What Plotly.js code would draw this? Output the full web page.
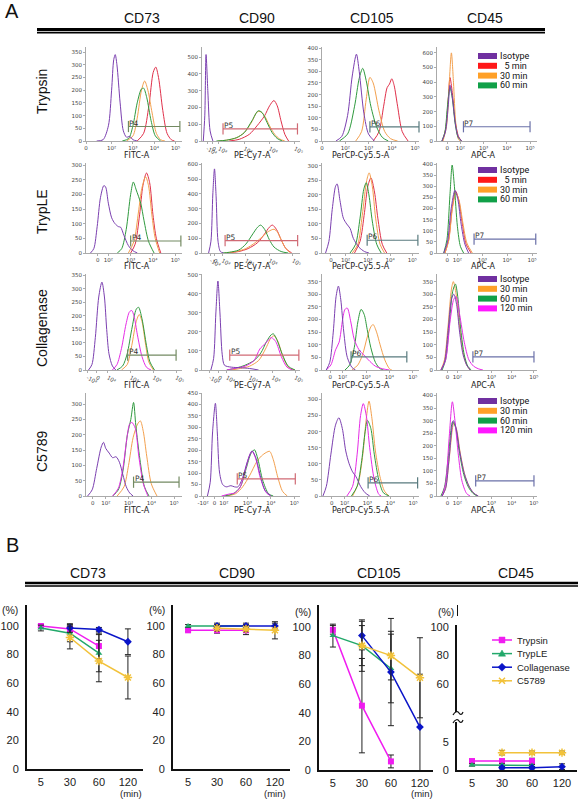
<!DOCTYPE html>
<html><head><meta charset="utf-8">
<script src="https://cdn.plot.ly/plotly-3.0.1.min.js"></script>
<style>html,body{margin:0;padding:0;background:#fff}#chart{width:578px;height:799px}</style>
</head><body><div id="chart"></div>
<script>
// ================= DATA =================
const rowNames = ["Trypsin", "TrypLE", "Collagenase", "C5789"];
const markerNames = ["CD73", "CD90", "CD105", "CD45"];
const channelNames = ["FITC-A", "PE-Cy7-A", "PerCP-Cy5.5-A", "APC-A"];
const gateNames = ["P4", "P5", "P6", "P7"];
const seriesEarly = ["Isotype", "\u00a0\u00a05 min", "30 min", "60 min"];
const seriesLate = ["Isotype", "30 min", "60 min", "120 min"];

// histogram curves: [display position (decade scale), count]
// Trypsin row: Isotype, 5 min, 30 min, 60 min
const trypsinCD73 = [
  [[1.3,0],[1.6,5],[1.85,60],[2.0,200],[2.1,320],[2.17,340],[2.25,300],[2.4,150],[2.55,40],[2.7,15],[2.85,18],[3.0,5],[3.2,0]],
  [[3.2,0],[3.5,30],[3.75,140],[3.95,270],[4.07,291],[4.2,250],[4.4,120],[4.6,30],[4.8,5],[4.95,0]],
  [[2.7,0],[3.0,20],[3.2,90],[3.4,200],[3.55,236],[3.7,200],[3.9,110],[4.1,30],[4.3,5],[4.5,0]],
  [[2.5,0],[2.8,10],[3.0,60],[3.2,150],[3.4,205],[3.5,208],[3.65,170],[3.85,80],[4.05,20],[4.3,0]]
];
const trypsinCD90 = [
  [[1.38,0],[1.44,150],[1.49,515],[1.56,300],[1.65,60],[1.76,0]],
  [[2.4,0],[2.8,10],[3.2,40],[3.5,90],[3.8,150],[4.0,210],[4.17,241],[4.3,210],[4.45,120],[4.6,40],[4.75,0]],
  [[1.95,0],[2.3,5],[2.7,20],[3.0,50],[3.3,115],[3.5,172],[3.62,176],[3.8,150],[4.0,90],[4.2,40],[4.4,12],[4.6,0]],
  [[1.9,0],[2.3,5],[2.7,20],[3.0,50],[3.3,120],[3.55,180],[3.7,170],[3.9,110],[4.1,50],[4.3,15],[4.5,0]]
];
const trypsinCD105 = [
  [[1.6,0],[1.85,20],[2.1,110],[2.3,280],[2.48,374],[2.6,300],[2.8,120],[3.0,30],[3.25,0]],
  [[3.2,0],[3.45,40],[3.65,150],[3.8,230],[3.9,245],[4.0,268],[4.1,240],[4.25,150],[4.45,40],[4.7,0]],
  [[2.45,0],[2.7,40],[2.9,180],[3.06,274],[3.2,250],[3.45,130],[3.7,40],[3.95,10],[4.25,0]],
  [[1.75,0],[2.1,30],[2.4,150],[2.6,270],[2.75,313],[2.9,260],[3.1,150],[3.35,60],[3.6,15],[3.85,0]]
];
const trypsinCD45 = [
  [[1.2,0],[1.35,60],[1.48,250],[1.55,380],[1.65,300],[1.78,120],[1.9,30],[2.05,0]],
  [[1.22,0],[1.36,80],[1.48,300],[1.55,432],[1.65,330],[1.78,130],[1.92,30],[2.05,0]],
  [[1.25,0],[1.4,100],[1.52,400],[1.61,600],[1.7,400],[1.8,120],[1.92,10],[2.0,0]],
  [[1.2,0],[1.33,60],[1.45,250],[1.55,365],[1.65,290],[1.78,110],[1.9,25],[2.05,0]]
];
// TrypLE row: Isotype, 5 min, 30 min, 60 min
const trypleCD73 = [
  [[1.2,0],[1.35,15],[1.5,90],[1.65,190],[1.8,230],[1.88,225],[2.0,170],[2.15,120],[2.3,100],[2.45,90],[2.55,88],[2.7,60],[2.9,25],[3.1,8],[3.3,0]],
  [[3.0,0],[3.2,30],[3.4,130],[3.55,230],[3.71,273],[3.85,240],[4.0,130],[4.15,50],[4.35,0]],
  [[2.9,0],[3.15,40],[3.35,140],[3.5,220],[3.67,260],[3.8,230],[3.95,130],[4.1,50],[4.3,0]],
  [[2.4,0],[2.6,15],[2.8,80],[3.0,200],[3.12,242],[3.25,215],[3.45,170],[3.6,110],[3.8,40],[4.05,0]]
];
const trypleCD90 = [
  [[1.42,0],[1.52,80],[1.6,400],[1.67,570],[1.74,380],[1.82,80],[1.92,10],[2.05,0]],
  [[2.2,0],[2.7,10],[3.1,30],[3.5,70],[3.8,130],[4.0,175],[4.13,189],[4.3,160],[4.5,90],[4.7,30],[4.95,0]],
  [[2.1,0],[2.6,10],[3.0,30],[3.4,70],[3.7,110],[3.95,145],[4.2,161],[4.35,140],[4.5,90],[4.7,30],[4.9,0]],
  [[2.0,0],[2.3,5],[2.7,20],[3.0,60],[3.3,130],[3.5,175],[3.63,189],[3.8,160],[4.0,90],[4.2,40],[4.5,10],[4.8,0]]
];
const trypleCD105 = [
  [[1.1,0],[1.25,40],[1.4,150],[1.55,230],[1.62,238],[1.75,180],[1.9,120],[2.05,100],[2.2,85],[2.35,50],[2.6,20],[2.85,5],[3.05,0]],
  [[2.4,0],[2.65,40],[2.85,140],[3.0,230],[3.14,259],[3.3,210],[3.45,120],[3.65,30],[3.85,0]],
  [[2.3,0],[2.55,30],[2.75,130],[2.95,250],[3.06,276],[3.2,230],[3.35,120],[3.55,30],[3.75,0]],
  [[2.2,0],[2.45,30],[2.65,120],[2.82,220],[2.93,242],[3.05,200],[3.2,110],[3.4,30],[3.6,0]]
];
const trypleCD45 = [
  [[1.45,0],[1.6,50],[1.75,200],[1.9,282],[2.02,240],[2.15,130],[2.3,40],[2.45,0]],
  [[1.5,0],[1.65,60],[1.8,210],[1.93,278],[2.05,240],[2.2,130],[2.35,40],[2.55,0]],
  [[1.5,0],[1.65,55],[1.8,200],[1.94,270],[2.07,235],[2.22,135],[2.38,45],[2.6,0]],
  [[1.45,0],[1.58,60],[1.7,260],[1.79,396],[1.88,300],[2.0,120],[2.12,30],[2.25,0]]
];
// Collagenase row: Isotype, 30 min, 60 min, 120 min
const collagenaseCD73 = [
  [[1.15,0],[1.3,20],[1.45,120],[1.6,270],[1.74,325],[1.85,270],[1.95,150],[2.05,60],[2.2,15],[2.35,0]],
  [[2.6,0],[2.85,20],[3.05,90],[3.25,180],[3.38,205],[3.5,180],[3.65,100],[3.8,30],[4.0,0]],
  [[2.4,0],[2.65,15],[2.85,60],[3.05,150],[3.25,225],[3.35,232],[3.5,190],[3.7,90],[3.85,30],[4.05,0]],
  [[2.2,0],[2.4,20],[2.6,80],[2.8,170],[2.95,215],[3.05,220],[3.15,200],[3.3,130],[3.5,50],[3.7,10],[3.9,0]]
];
const collagenaseCD90 = [
  [[1.3,0],[1.42,60],[1.52,300],[1.61,468],[1.7,300],[1.8,80],[1.9,25],[2.2,15],[2.6,12],[3.0,8],[3.4,0]],
  [[2.2,0],[2.6,8],[3.0,20],[3.4,50],[3.7,110],[3.95,170],[4.08,180],[4.25,150],[4.5,60],[4.75,10],[5.0,0]],
  [[2.0,0],[2.4,10],[2.8,25],[3.2,50],[3.5,90],[3.75,150],[3.95,185],[4.05,190],[4.2,160],[4.45,80],[4.7,20],[5.0,0]],
  [[2.0,0],[2.4,10],[2.8,20],[3.2,50],[3.45,110],[3.7,140],[3.96,170],[4.15,150],[4.4,70],[4.65,15],[4.9,0]]
];
const collagenaseCD105 = [
  [[1.3,0],[1.45,30],[1.6,150],[1.72,290],[1.82,332],[1.92,280],[2.05,150],[2.2,50],[2.4,10],[2.55,0]],
  [[2.4,0],[2.65,20],[2.85,60],[3.05,130],[3.2,170],[3.3,180],[3.45,150],[3.6,100],[3.8,40],[4.0,5],[4.1,0]],
  [[2.1,0],[2.3,20],[2.5,90],[2.65,190],[2.79,240],[2.92,220],[3.05,160],[3.2,90],[3.4,30],[3.6,5],[3.75,0]],
  [[1.3,0],[1.5,20],[1.7,80],[1.85,110],[2.0,200],[2.1,240],[2.2,245],[2.35,190],[2.5,120],[2.7,80],[2.9,60],[3.1,40],[3.4,15],[3.7,5],[4.0,0]]
];
const collagenaseCD45 = [
  [[1.3,0],[1.45,30],[1.6,150],[1.75,280],[1.85,300],[1.97,260],[2.1,150],[2.25,60],[2.4,20],[2.55,0]],
  [[1.3,0],[1.45,40],[1.6,170],[1.75,320],[1.83,350],[1.95,300],[2.1,170],[2.25,70],[2.4,20],[2.55,0]],
  [[1.35,0],[1.5,40],[1.65,170],[1.8,310],[1.92,340],[2.02,290],[2.15,160],[2.3,60],[2.45,15],[2.6,0]],
  [[1.3,0],[1.5,40],[1.7,200],[1.85,280],[1.95,290],[2.1,220],[2.3,110],[2.5,40],[2.7,15],[2.9,5],[3.1,0]]
];
// C5789 row: Isotype, 30 min, 60 min, 120 min
const c5789CD73 = [
  [[1.2,0],[1.4,20],[1.6,90],[1.8,160],[1.9,175],[2.0,155],[2.15,140],[2.3,125],[2.45,128],[2.6,110],[2.75,70],[2.9,30],[3.05,10],[3.2,0]],
  [[2.5,0],[2.8,30],[3.0,100],[3.2,190],[3.4,235],[3.52,245],[3.65,210],[3.8,130],[4.0,40],[4.25,0]],
  [[2.3,0],[2.55,20],[2.75,80],[2.95,200],[3.1,250],[3.22,305],[3.32,230],[3.5,120],[3.7,30],[3.9,0]],
  [[2.3,0],[2.55,25],[2.75,90],[2.95,200],[3.05,235],[3.15,240],[3.3,220],[3.45,130],[3.65,40],[3.85,0]]
];
const c5789CD90 = [
  [[1.3,0],[1.42,60],[1.52,280],[1.64,405],[1.72,280],[1.82,100],[1.95,50],[2.1,40],[2.3,45],[2.45,40],[2.6,40],[2.8,80],[3.0,150],[3.2,197],[3.35,170],[3.55,90],[3.75,25],[4.0,0]],
  [[2.1,0],[2.5,10],[2.8,40],[3.1,90],[3.4,150],[3.6,175],[3.8,190],[3.95,195],[4.1,160],[4.3,80],[4.5,20],[4.7,0]],
  [[2.0,0],[2.4,10],[2.7,40],[2.95,120],[3.15,185],[3.3,202],[3.45,160],[3.65,70],[3.9,10],[4.1,0]],
  [[1.9,0],[2.2,8],[2.5,15],[2.7,40],[2.9,110],[3.1,180],[3.2,195],[3.35,165],[3.55,80],[3.8,15],[4.0,0]]
];
const c5789CD105 = [
  [[1.05,0],[1.2,30],[1.4,130],[1.6,220],[1.75,243],[1.9,210],[2.05,140],[2.2,100],[2.35,75],[2.5,60],[2.7,30],[2.9,10],[3.1,0]],
  [[2.35,0],[2.6,40],[2.8,130],[2.95,240],[3.07,295],[3.2,240],[3.35,140],[3.55,60],[3.75,15],[3.95,0]],
  [[2.3,0],[2.55,30],[2.75,110],[2.9,200],[3.0,235],[3.15,210],[3.3,130],[3.5,50],[3.7,10],[3.95,0]],
  [[2.1,0],[2.35,30],[2.55,130],[2.7,250],[2.82,287],[2.95,250],[3.1,150],[3.3,50],[3.5,5],[3.6,0]]
];
const c5789CD45 = [
  [[1.35,0],[1.5,30],[1.65,150],[1.83,300],[1.95,270],[2.1,180],[2.3,90],[2.5,40],[2.7,12],[2.9,0]],
  [[1.35,0],[1.5,30],[1.65,145],[1.85,290],[1.97,265],[2.12,175],[2.32,85],[2.52,35],[2.72,10],[2.9,0]],
  [[1.3,0],[1.45,35],[1.62,160],[1.8,295],[1.92,275],[2.08,180],[2.28,85],[2.48,35],[2.68,10],[2.85,0]],
  [[1.35,0],[1.5,50],[1.65,230],[1.79,375],[1.9,300],[2.05,160],[2.2,60],[2.4,10],[2.55,0]]
];

// gates: [start, end, count level]
const gatesTrypsin = [[2.79,5.2,57],[2.16,5.1,72],[3.06,5.17,61],[2.13,5.0,97]];
const gatesTryple = [[3.0,5.25,41],[2.12,5.2,84],[2.97,5.25,44],[2.67,5.15,62]];
const gatesCollagenase = [[2.87,5.0,55],[2.13,5.17,78],[2.36,4.74,52],[2.67,5.29,52]];
const gatesC5789 = [[3.22,5.22,45],[2.57,5.04,75],[3.03,5.2,41],[2.79,5.29,60]];

// tick labels of the display scale
const tickNeg = "-10\u00b2", tickZero = "0";
const tickDecades = ["10\u00b2", "10\u00b3", "10\u2074", "10\u2075"];

// Panel B
const times = ["5", "30", "60", "120"];
const enzymes = ["Trypsin", "TrypLE", "Collagenase", "C5789"];
const cd73Mean = [[100,98,86,null],[98.6,95,81,null],[null,98.6,97.5,89],[null,92,75.5,64]];
const cd73Err  = [[1,2,9,null],[2,6,13,null],[null,3,1.5,9],[null,8,14.5,15]];
const cd90Mean = [[97,97,97,null],[100,100,100,null],[null,100,100,100],[null,98.5,98,97]];
const cd90Err  = [[1,2,3,null],[1,1,1,null],[null,2,2,2],[null,2,2,6]];
const cd105Mean = [[98,45,6,null],[94,87,71,null],[null,94,68.5,30],[null,87,80,64.5]];
const cd105Err  = [[3,33,4.5,null],[8,14,24,null],[null,10,37.5,37],[null,18,17,28]];
const cd45Mean = [[1.6,1.6,1.6,null],[0.9,0.9,0.8,null],[null,0.4,0.4,0.6],[null,3.1,3.1,3.1]];
const cd45Err  = [[0.3,0.3,0.5,null],[0.2,0.2,0.2,null],[null,0.2,0.2,0.5],[null,0.4,0.3,0.3]];

// ================= LAYOUT / STYLE =================
const W = 578, H = 799;
const PX = v => v / W;
const PY = v => 1 - v / H;
const axId = (p, n) => n === 1 ? p : p + n;
const axKey = (p, n) => n === 1 ? p + 'axis' : p + 'axis' + n;

const colX = [[86,182],[202,300],[322,419],[437,537]];
const rowY = [[47,141],[163,253],[274,370],[393,496]];
const xRanges = [
  [0.8,5.3],[1.33,5.2],[1.0,5.17],[0.99,5.3],
  [1.0,5.3],[1.14,5.3],[0.94,5.3],[1.18,5.2],
  [1.04,5.26],[0.91,5.22],[1.12,5.26],[1.13,5.42],
  [1.13,5.35],[1.07,5.24],[1.01,5.26],[1.13,5.42]
];
const lowTicks = [
  [null,0.8],[1.53,1.76],[null,1.0],[null,1.43],
  [null,1.53],[1.51,1.67],[null,1.34],[null,1.59],
  [1.1,1.52],[1.26,1.65],[null,1.47],[null,1.58],
  [null,1.43],[1.12,1.6],[null,1.44],[null,1.58]
];
const decadePos = [
  [2,3,4,5],[2,3,4,5],[2,3,4,5],[2,3,4,5],
  [2,3,4,5],[2,3,4,5],[2,3,4,5],[2,3,4,5],
  [2,3,4,5],[2,3,4,5],[2,3,4,5],[2,3.46,4.33,5.29],
  [2,3,4,5],[2,3,4,5],[2,3,4,5],[2,3.46,4.33,5.29]
];
const yMax = [[370,50],[560,100],[405,50],[640,100],
              [307,50],[610,100],[310,50],[405,50],
              [355,50],[505,100],[380,50],[380,50],
              [336,50],[450,50],[320,50],[410,50]];

const histColorsEarly = ['#7b3fb0', '#e0304a', '#f3a04e', '#2f9a3e'];
const histColorsLate  = ['#7b3fb0', '#f3a04e', '#2f9a3e', '#e62ce6'];
const swatchEarly = ['#7030a0', '#ff1818', '#ffa028', '#10a048'];
const swatchLate  = ['#7030a0', '#ffa028', '#10a048', '#ff18ff'];
const gateColors = ['#738a62', '#d06a74', '#587a7e', '#6a70a8'];

const panels = [
  trypsinCD73, trypsinCD90, trypsinCD105, trypsinCD45,
  trypleCD73, trypleCD90, trypleCD105, trypleCD45,
  collagenaseCD73, collagenaseCD90, collagenaseCD105, collagenaseCD45,
  c5789CD73, c5789CD90, c5789CD105, c5789CD45
];
const gates = [gatesTrypsin, gatesTryple, gatesCollagenase, gatesC5789];

const traces = [];
const annotations = [];
const shapes = [];
const layout = {
  width: W, height: H, margin: {l:0, r:0, t:0, b:0},
  paper_bgcolor: '#fff', plot_bgcolor: 'rgba(0,0,0,0)',
  showlegend: false, font: {family: 'Liberation Sans, Arial, sans-serif', color: '#111'}
};

const smallFont = {family: 'DejaVu Sans, sans-serif', size: 5.5, color: '#444'};

panels.forEach((curves, k) => {
  const r = Math.floor(k / 4), c = k % 4, n = k + 1;
  const xa = axId('x', n), ya = axId('y', n);
  const cols = r < 2 ? histColorsEarly : histColorsLate;
  [1, 2, 3, 0].forEach(i => {
    const pts = curves[i];
    traces.push({
      type: 'scatter', mode: 'lines', x: pts.map(p => p[0]), y: pts.map(p => p[1]),
      xaxis: xa, yaxis: ya, hoverinfo: 'skip',
      line: {color: cols[i], width: 1, shape: 'spline', smoothing: 0.8}
    });
  });
  const g = gates[r][c];
  traces.push({
    type: 'scatter', mode: 'lines+markers', x: [g[0], g[1]], y: [g[2], g[2]],
    xaxis: xa, yaxis: ya, hoverinfo: 'skip', cliponaxis: false,
    line: {color: gateColors[c], width: 1.2},
    marker: {symbol: 'line-ns-open', size: 8, color: gateColors[c], line: {color: gateColors[c], width: 1.2}}
  });
  annotations.push({
    xref: xa, yref: ya, x: g[0], y: g[2], text: gateNames[c], showarrow: false,
    xanchor: 'left', yanchor: 'bottom', yshift: -3, xshift: -1,
    font: {family: 'DejaVu Sans, sans-serif', size: 7.5, color: '#333'}
  });
  const tv = [], tt = [];
  if (lowTicks[k][0] !== null) { tv.push(lowTicks[k][0]); tt.push(tickNeg); }
  tv.push(lowTicks[k][1]); tt.push(tickZero);
  decadePos[k].forEach((p, i) => { tv.push(p); tt.push(tickDecades[i]); });
  layout[axKey('x', n)] = {
    domain: [PX(colX[c][0]), PX(colX[c][1])], range: xRanges[k], anchor: ya,
    tickmode: 'array', tickvals: tv, ticktext: tt, tickfont: smallFont,
    ticks: 'outside', ticklen: 1.5, tickwidth: 0.8, tickcolor: '#999', ticklabelstandoff: 0,
    showline: true, linecolor: '#aaa', linewidth: 1, showgrid: false, zeroline: false, fixedrange: true
  };
  layout[axKey('y', n)] = {
    domain: [PY(rowY[r][1]), PY(rowY[r][0])], range: [0, yMax[k][0]], anchor: xa,
    tick0: 0, dtick: yMax[k][1], tickfont: smallFont,
    ticks: 'outside', ticklen: 2, tickwidth: 0.8, tickcolor: '#999',
    showline: true, linecolor: '#aaa', linewidth: 1, showgrid: false, zeroline: false, fixedrange: true
  };
});

const chanCenters = [137, 252, 361, 483];
const chanTitleY = [155.5, 266.5, 385.5, 510.5];
rowY.forEach((ry, r) => {
  channelNames.forEach((nm, c) => {
    annotations.push({xref: 'paper', yref: 'paper', x: PX(chanCenters[c]), y: PY(chanTitleY[r]),
      text: nm, showarrow: false, font: {family: 'DejaVu Sans, sans-serif', size: 8, color: '#222'}});
  });
});

const legStartY = [56, 170, 279, 401];
legStartY.forEach((y0, r) => {
  const names = r < 2 ? seriesEarly : seriesLate;
  const sw = r < 2 ? swatchEarly : swatchLate;
  names.forEach((nm, i) => {
    const yy = y0 + i * 9.8;
    shapes.push({type: 'rect', xref: 'paper', yref: 'paper', x0: PX(478), x1: PX(497),
      y0: PY(yy + 3), y1: PY(yy - 3), fillcolor: sw[i], line: {width: 0}});
    annotations.push({xref: 'paper', yref: 'paper', x: PX(497.5), y: PY(yy), xanchor: 'left', yanchor: 'middle',
      text: nm, showarrow: false, font: {family: 'Roboto, sans-serif', size: 9, color: '#111'}});
  });
});

annotations.push({xref:'paper', yref:'paper', x: PX(12), y: PY(11), text: 'A', showarrow: false,
  font: {size: 20, family: 'Liberation Sans, Arial'}});
const headA = [142, 257, 372, 485];
markerNames.forEach((m, i) => annotations.push({xref:'paper', yref:'paper', x: PX(headA[i]), y: PY(18), text: m,
  showarrow: false, font: {size: 14, family: 'Liberation Sans, Arial'}}));
shapes.push({type:'line', xref:'paper', yref:'paper', x0: PX(37), x1: PX(545), y0: PY(29.5), y1: PY(29.5), line:{color:'#000', width:3}});
shapes.push({type:'line', xref:'paper', yref:'paper', x0: PX(37), x1: PX(545), y0: PY(32.6), y1: PY(32.6), line:{color:'#000', width:1.6}});
const rowLabelY = [92, 212, 328, 452];
rowNames.forEach((nm, i) => annotations.push({xref:'paper', yref:'paper', x: PX(42), y: PY(rowLabelY[i]), text: nm,
  textangle: -90, showarrow: false, font: {size: 14, family: 'Liberation Sans, Arial'}}));

// ================= Section B =================
annotations.push({xref:'paper', yref:'paper', x: PX(12), y: PY(545), text: 'B', showarrow: false,
  font: {size: 20, family: 'Liberation Sans, Arial'}});
const headB = [88, 237, 379, 516];
markerNames.forEach((m, i) => annotations.push({xref:'paper', yref:'paper', x: PX(headB[i]), y: PY(573), text: m,
  showarrow: false, font: {size: 14, family: 'Liberation Sans, Arial'}}));
shapes.push({type:'line', xref:'paper', yref:'paper', x0: PX(25), x1: PX(578), y0: PY(583), y1: PY(583), line:{color:'#000', width:2.6}});
shapes.push({type:'line', xref:'paper', yref:'paper', x0: PX(25), x1: PX(578), y0: PY(586), y1: PY(586), line:{color:'#000', width:1.5}});

const enzColors = ['#f01cf0', '#22a86a', '#0a14c8', '#f2c23a'];
const enzSymbols = ['square', 'triangle-up', 'diamond', 'asterisk-open'];
const lineFont = {family: 'Liberation Sans, Arial', size: 11, color: '#222'};
const bCharts = [[cd73Mean, cd73Err], [cd90Mean, cd90Err], [cd105Mean, cd105Err], [cd45Mean, cd45Err]];
const bX = [[27,143,-0.48,3.52],[173,290,-0.52,3.52],[319,433,-0.48,3.45],[457,577,-0.5,3.5]];
const bY = [[769,605,114.7],[769,605,114.7],[770,605,115.4],[770,722,8.57]];

bCharts.forEach(([mean, err], j) => {
  const n = 17 + j;
  const xa = axId('x', n), ya = axId('y', n);
  enzymes.forEach((nm, i) => {
    traces.push({
      type: 'scatter', mode: 'lines+markers', x: times, y: mean[i], xaxis: xa, yaxis: ya,
      hoverinfo: 'skip', cliponaxis: true,
      error_y: {type: 'data', array: err[i], visible: true, color: '#222', thickness: 1, width: 3},
      line: {color: enzColors[i], width: 1.5},
      marker: {symbol: enzSymbols[i], size: i === 3 ? 7 : 6, color: enzColors[i],
               line: {color: enzColors[i], width: i === 3 ? 1.5 : 0}}
    });
  });
  layout[axKey('x', n)] = {
    domain: [PX(bX[j][0]), PX(bX[j][1])], range: [bX[j][2], bX[j][3]], anchor: ya,
    type: 'category', categoryorder: 'array', categoryarray: times,
    showline: true, linecolor: '#111', linewidth: 2, ticks: '', ticklabelstandoff: 2,
    tickfont: lineFont, showgrid: false, zeroline: false, fixedrange: true
  };
  layout[axKey('y', n)] = {
    domain: [PY(bY[j][0]), PY(bY[j][1])], range: [0, bY[j][2]], anchor: xa,
    tickmode: 'array', tickvals: j < 3 ? [0,20,40,60,80,100] : [0,5],
    showline: true, linecolor: '#111', linewidth: 2, ticks: '', ticklabelstandoff: 4,
    tickfont: lineFont, showgrid: false, zeroline: false, fixedrange: true
  };
});
traces.push({type: 'scatter', mode: 'markers', x: [times[0]], y: [null], xaxis: 'x20', yaxis: 'y21', hoverinfo: 'skip'});
layout.yaxis21 = {
  domain: [PY(712), PY(625)], range: [40.6, 101.4], anchor: 'x20',
  tickmode: 'array', tickvals: [60, 80, 100],
  showline: true, linecolor: '#111', linewidth: 2, ticks: '', ticklabelstandoff: 4,
  tickfont: lineFont, showgrid: false, zeroline: false, fixedrange: true
};
shapes.push({type:'line', xref:'paper', yref:'paper', x0: PX(457.5), x1: PX(457.5), y0: PY(605), y1: PY(616), line:{color:'#111', width:1}});
shapes.push({type:'path', xref:'paper', yref:'paper', xsizemode:'pixel', ysizemode:'pixel', xanchor: PX(457), yanchor: PY(713),
  path: 'M-4,-2 C-2,2 1,2 2,0 C3,-2 5,-2 6,1', line:{color:'#111', width:1.2}});
shapes.push({type:'path', xref:'paper', yref:'paper', xsizemode:'pixel', ysizemode:'pixel', xanchor: PX(457), yanchor: PY(721),
  path: 'M-4,-2 C-2,2 1,2 2,0 C3,-2 5,-2 6,1', line:{color:'#111', width:1.2}});

[[10,610],[157,610],[303,612],[446,612]].forEach(p => annotations.push({xref:'paper', yref:'paper', x: PX(p[0]), y: PY(p[1]),
  text: '(%)', showarrow: false, font: {family: 'Liberation Sans, Arial', size: 10.5, color: '#222'}}));
[[131,793.5],[275,793.5],[422,793.5]].forEach(p => annotations.push({xref:'paper', yref:'paper', x: PX(p[0]), y: PY(p[1]),
  text: '(min)', showarrow: false, font: {family: 'Liberation Sans, Arial', size: 9.5, color: '#222'}}));

const markerPaths = ['M-3,-3H3V3H-3Z', 'M0,3.6L3.6,-2.6H-3.6Z', 'M0,-4L4,0L0,4L-4,0Z', 'M-3,-3L3,3M-3,3L3,-3M-4,0H4'];
enzymes.forEach((nm, i) => {
  const yy = 640 + i * 13.6;
  shapes.push({type:'line', xref:'paper', yref:'paper', x0: PX(492), x1: PX(512), y0: PY(yy), y1: PY(yy), line:{color: enzColors[i], width: 1.5}});
  shapes.push({type:'path', xref:'paper', yref:'paper', xsizemode:'pixel', ysizemode:'pixel', xanchor: PX(502), yanchor: PY(yy),
    path: markerPaths[i], fillcolor: i === 3 ? 'rgba(0,0,0,0)' : enzColors[i], line: {color: enzColors[i], width: i === 3 ? 1.5 : 0.5}});
  annotations.push({xref:'paper', yref:'paper', x: PX(515), y: PY(yy), xanchor: 'left', yanchor: 'middle', text: nm,
    showarrow: false, font: {family: 'Liberation Sans, Arial', size: 9.5, color: '#222'}});
});

annotations.forEach(a => { if (!a.xanchor) a.xanchor = 'center'; if (!a.yanchor) a.yanchor = 'middle'; });
layout.annotations = annotations;
layout.shapes = shapes;
Plotly.newPlot('chart', traces, layout, {staticPlot: true, displayModeBar: false});
</script>
</body></html>
